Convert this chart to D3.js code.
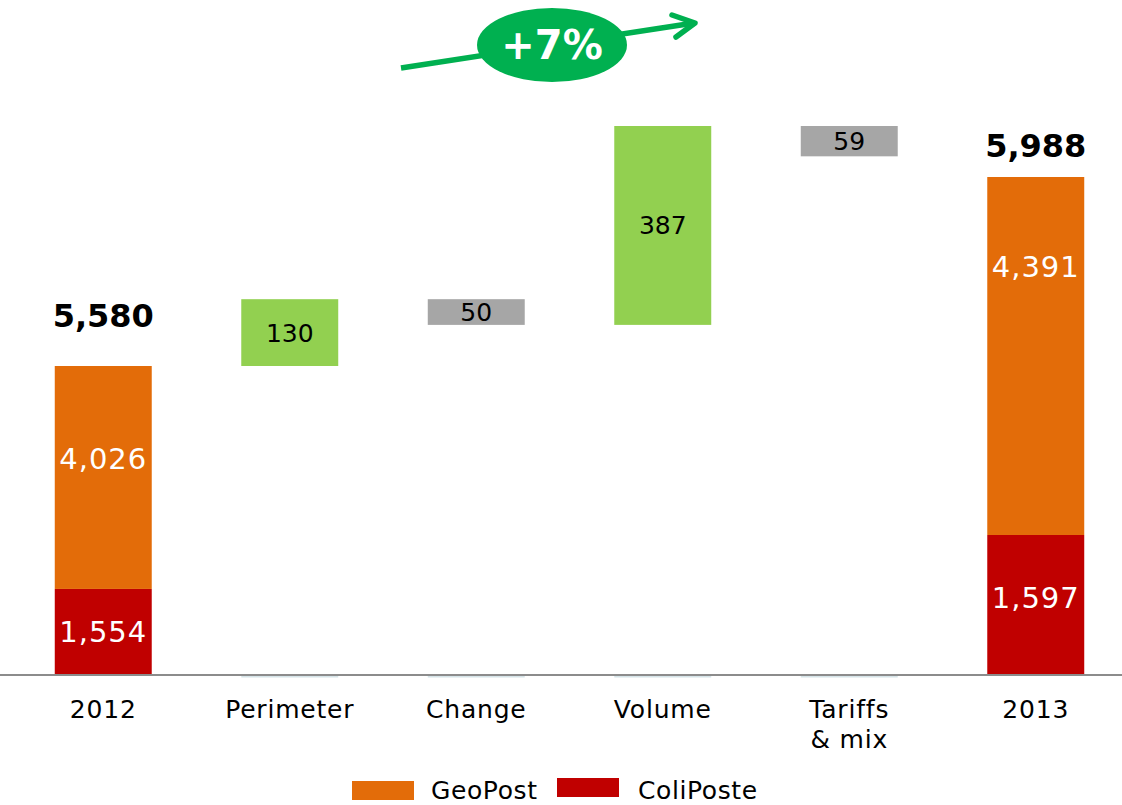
<!DOCTYPE html>
<html>
<head>
<meta charset="utf-8">
<script src="https://cdn.jsdelivr.net/npm/d3@7"></script>
<style>
  html, body { margin: 0; padding: 0; background: #fff; }
  svg { display: block; font-family: "DejaVu Sans", Verdana, sans-serif; }
</style>
</head>
<body>
<svg id="chart" width="1122" height="805"></svg>
<script>
// ---- data ----
const categories = ["2012", "Perimeter", "Change", "Volume", "Tariffs\n& mix", "2013"];
const segments = ["ColiPoste", "GeoPost"];
const values2012 = [1554, 4026];
const values2013 = [1597, 4391];
const deltas = [130, -50, 387, -59];
const growthLabel = "+7%";

// ---- styles ----
const segColors = { ColiPoste: "#c00000", GeoPost: "#e36c09" };
const posColor = "#92d050", negColor = "#a6a6a6";
const arrowGreen = "#00b050";
const FONT = "DejaVu Sans, Verdana, sans-serif";

const svg = d3.select("#chart");
const baseY = 675;

const x = d3.scaleBand().domain(categories).range([10, 1129])
  .paddingInner(0.48).paddingOuter(0.24);
const bw = x.bandwidth();

const total2012 = d3.sum(values2012);
const total2013 = d3.sum(values2013);
// running cumulative values for the waterfall
let run = total2012;
const steps = deltas.map((d, i) => {
  const start = run; run += d;
  return { cat: categories[i + 1], start, end: run, value: d };
});
const runMax = d3.max(steps, s => Math.max(s.start, s.end));

// broken-axis scales (as in the original slide)
const yW = d3.scaleLinear().domain([0, total2012, runMax]).range([baseY, 366, 126]);
const y13 = d3.scaleLinear().domain([0, values2013[0], total2013]).range([baseY, 535, 177]);

// faint base markers under floating bars
svg.append("g").selectAll("rect").data(steps).join("rect")
  .attr("x", d => x(d.cat)).attr("width", bw)
  .attr("y", baseY).attr("height", 2.5).attr("fill", "#d6e4e8");

// stacked total bars
function stacked(cat, vals, scale, labelFracs, totalOffset) {
  const g = svg.append("g");
  let acc = 0;
  const segs = vals.map((v, i) => { const s = { key: segments[i], y0: acc, y1: acc + v, v }; acc += v; return s; });
  g.selectAll("rect").data(segs).join("rect")
    .attr("x", x(cat)).attr("width", bw)
    .attr("y", d => scale(d.y1)).attr("height", d => scale(d.y0) - scale(d.y1))
    .attr("fill", d => segColors[d.key]);
  g.selectAll("text.seg").data(segs).join("text").attr("class", "seg")
    .attr("x", x(cat) + bw / 2)
    .attr("y", (d, i) => scale(d.y1) + (scale(d.y0) - scale(d.y1)) * labelFracs[i])
    .attr("dy", "0.36em")
    .attr("text-anchor", "middle").attr("fill", "#fff")
    .attr("font-size", 29).attr("letter-spacing", 1).attr("font-family", FONT)
    .text(d => d3.format(",")(d.v));
  g.append("text")
    .attr("x", x(cat) + bw / 2).attr("y", scale(acc) - totalOffset)
    .attr("text-anchor", "middle").attr("fill", "#000")
    .attr("font-size", 32).attr("font-weight", "bold").attr("font-family", FONT)
    .text(d3.format(",")(acc));
}
stacked(categories[0], values2012, yW, [0.5, 0.415], 39);
stacked(categories[5], values2013, y13, [0.45, 0.25], 20);

// floating delta bars
const fg = svg.append("g");
fg.selectAll("rect").data(steps).join("rect")
  .attr("x", d => x(d.cat)).attr("width", bw)
  .attr("y", d => yW(Math.max(d.start, d.end)))
  .attr("height", d => Math.abs(yW(d.start) - yW(d.end)))
  .attr("fill", d => d.value >= 0 ? posColor : negColor);
fg.selectAll("text").data(steps).join("text")
  .attr("x", d => x(d.cat) + bw / 2)
  .attr("y", d => (yW(d.start) + yW(d.end)) / 2)
  .attr("dy", "0.36em").attr("text-anchor", "middle").attr("fill", "#000")
  .attr("font-size", 25).attr("font-family", FONT)
  .text(d => Math.abs(d.value));

// baseline axis
const xAxis = d3.axisBottom(x).tickSize(0).tickFormat("");
const ax = svg.append("g").attr("transform", `translate(0,${baseY})`).call(xAxis);
ax.select(".domain").remove();
svg.append("line").attr("x1", 0).attr("x2", 1122).attr("y1", baseY).attr("y2", baseY)
  .attr("stroke", "#8c8c8c").attr("stroke-width", 2);

// category labels
const cl = svg.append("g").selectAll("text").data(categories).join("text")
  .attr("x", d => x(d) + bw / 2).attr("y", 718)
  .attr("text-anchor", "middle").attr("fill", "#000")
  .attr("font-size", 25).attr("letter-spacing", 0.8).attr("font-family", FONT);
cl.each(function (d) {
  const lines = d.split("\n");
  d3.select(this).selectAll("tspan").data(lines).join("tspan")
    .attr("x", x(d) + bw / 2).attr("dy", (l, i) => i === 0 ? 0 : 30).text(l => l);
});

// growth arrow
const ag = svg.append("g");
ag.append("line").attr("x1", 401).attr("y1", 68).attr("x2", 694).attr("y2", 23)
  .attr("stroke", arrowGreen).attr("stroke-width", 5.5);
ag.append("path").attr("d", "M672,15 L695,23 L676,37")
  .attr("fill", "none").attr("stroke", arrowGreen).attr("stroke-width", 5.5)
  .attr("stroke-linecap", "round").attr("stroke-linejoin", "round");
ag.append("ellipse").attr("cx", 552).attr("cy", 45).attr("rx", 75).attr("ry", 37)
  .attr("fill", arrowGreen);
ag.append("text").attr("x", 552).attr("y", 45).attr("dy", "0.36em")
  .attr("text-anchor", "middle").attr("fill", "#fff")
  .attr("font-size", 40).attr("font-weight", "bold").attr("font-family", FONT)
  .text(growthLabel);

// legend
const legendItems = ["GeoPost", "ColiPoste"];
const lg = svg.append("g");
const legX = [352, 557], legTX = [431, 638], legY = [781, 778];
legendItems.forEach((k, i) => {
  lg.append("rect").attr("x", legX[i]).attr("y", legY[i]).attr("width", 62).attr("height", 19)
    .attr("fill", segColors[k]);
  lg.append("text").attr("x", legTX[i]).attr("y", 799)
    .attr("fill", "#000").attr("font-size", 25).attr("letter-spacing", 0.6).attr("font-family", FONT).text(k);
});
</script>
</body>
</html>
